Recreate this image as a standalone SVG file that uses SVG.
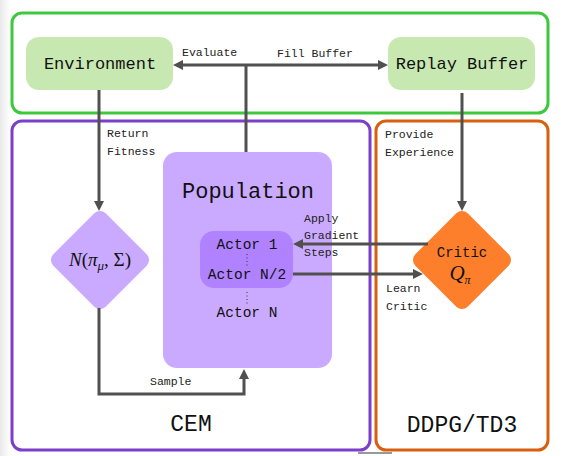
<svg xmlns="http://www.w3.org/2000/svg" width="566" height="456" viewBox="0 0 566 456">
  <defs>
    <style>
      .frame { fill: #ffffff; stroke-width: 3; }
      .mono { font-family: "Liberation Mono", "DejaVu Sans Mono", monospace; fill: #111111; text-anchor: middle; }
      .label { font-family: "Liberation Mono", "DejaVu Sans Mono", monospace; fill: #222222; font-size: 11.5px; }
      .math { font-family: "Liberation Serif", "DejaVu Serif", serif; fill: #111111; }
      .wire { fill: none; stroke: #505050; stroke-width: 3; }
      .dots { stroke: #333333; stroke-width: 1; stroke-dasharray: 1 2.5; }
    </style>
    <marker id="head" viewBox="0 0 10 10" refX="2" refY="5" markerWidth="10" markerHeight="10" markerUnits="userSpaceOnUse" orient="auto-start-reverse">
      <path d="M0,0 L10,5 L0,10 z" fill="#505050"/>
    </marker>
    <linearGradient id="edgeShade" x1="0" y1="0" x2="1" y2="0">
      <stop offset="0" stop-color="#e9e9e9"/>
      <stop offset="1" stop-color="#ffffff"/>
    </linearGradient>
  </defs>

  <rect width="566" height="456" fill="#ffffff"/>
  <rect width="10" height="456" fill="url(#edgeShade)"/>

  <!-- outer groupings -->
  <g id="env-region">
    <rect class="frame" x="12" y="13" width="536" height="100" rx="10" stroke="#3ec83e"/>
  </g>
  <g id="cem-region">
    <rect class="frame" x="12" y="121" width="358" height="329" rx="10" stroke="#7b3fcb"/>
    <text class="mono" x="191" y="431" font-size="23">CEM</text>
  </g>
  <g id="ddpg-region">
    <rect class="frame" x="376" y="121" width="172" height="329" rx="10" stroke="#d95f0e"/>
    <text class="mono" x="462" y="432" font-size="23">DDPG/TD3</text>
  </g>
  <line x1="358" y1="453" x2="392" y2="453" stroke="#333333" stroke-width="1"/>

  <!-- nodes -->
  <g id="environment">
    <rect x="26" y="37" width="147" height="53" rx="13" fill="#c8e8b2"/>
    <text class="mono" x="100" y="69" font-size="17">Environment</text>
  </g>
  <g id="replay-buffer">
    <rect x="388" y="37" width="147" height="53" rx="13" fill="#c8e8b2"/>
    <text class="mono" x="462" y="69" font-size="17">Replay Buffer</text>
  </g>
  <g id="population">
    <rect x="163" y="152" width="169" height="216" rx="14" fill="#caaaff"/>
    <text class="mono" x="248" y="198" font-size="22">Population</text>
  </g>
  <g id="actors">
    <rect x="200" y="231" width="93" height="57" rx="14" fill="#b082ff"/>
    <text class="mono" x="247" y="249" font-size="14.5">Actor 1</text>
    <line class="dots" x1="247" y1="254" x2="247" y2="267"/>
    <text class="mono" x="247" y="279" font-size="14.5">Actor N/2</text>
    <line class="dots" x1="247" y1="292" x2="247" y2="305"/>
    <text class="mono" x="247" y="317" font-size="14.5">Actor N</text>
  </g>
  <g id="distribution">
    <rect x="-37" y="-37" width="74" height="74" rx="8" fill="#caaaff" transform="translate(100 260) rotate(45)"/>
    <text class="math" x="100" y="266" font-size="19" text-anchor="middle"><tspan font-style="italic">N</tspan>(<tspan font-style="italic">π</tspan><tspan font-style="italic" font-size="13" dy="4">μ</tspan><tspan dy="-4">, Σ)</tspan></text>
  </g>
  <g id="critic">
    <rect x="-37" y="-37" width="74" height="74" rx="8" fill="#fd7f2c" transform="translate(462 260) rotate(45)"/>
    <text class="mono" x="462" y="257" font-size="14">Critic</text>
    <text class="math" x="460" y="280" font-size="21" text-anchor="middle"><tspan font-style="italic">Q</tspan><tspan font-style="italic" font-size="12" dy="4">π</tspan></text>
  </g>

  <!-- connectors -->
  <g id="connectors">
    <line class="wire" x1="181" y1="65" x2="380" y2="65" marker-start="url(#head)" marker-end="url(#head)"/>
    <line class="wire" x1="246" y1="65" x2="246" y2="152"/>
    <line class="wire" x1="99" y1="90" x2="99" y2="203" marker-end="url(#head)"/>
    <line class="wire" x1="462" y1="93" x2="462" y2="203" marker-end="url(#head)"/>
    <line class="wire" x1="428" y1="244" x2="301" y2="244" marker-end="url(#head)"/>
    <line class="wire" x1="293" y1="274" x2="415" y2="274" marker-end="url(#head)"/>
    <polyline class="wire" points="99,308 99,394 244,394 244,377" marker-end="url(#head)"/>
  </g>

  <!-- connector labels -->
  <g id="labels">
    <text class="label" x="182" y="56">Evaluate</text>
    <text class="label" x="277" y="57">Fill Buffer</text>
    <text class="label" x="107" y="137">Return</text>
    <text class="label" x="107" y="155">Fitness</text>
    <text class="label" x="385" y="138">Provide</text>
    <text class="label" x="385" y="156">Experience</text>
    <text class="label" x="304" y="222" font-size="11">Apply</text>
    <text class="label" x="304" y="239" font-size="11">Gradient</text>
    <text class="label" x="304" y="256" font-size="11">Steps</text>
    <text class="label" x="386" y="292">Learn</text>
    <text class="label" x="386" y="310">Critic</text>
    <text class="label" x="150" y="385">Sample</text>
  </g>
</svg>
